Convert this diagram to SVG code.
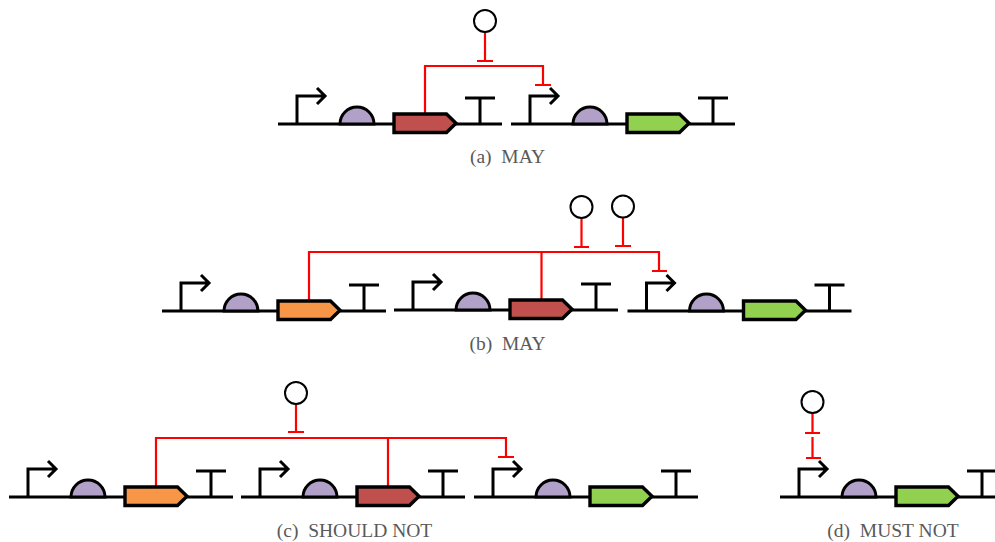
<svg xmlns="http://www.w3.org/2000/svg" width="995" height="542" viewBox="0 0 995 542">
<style>
.bb{fill:none;stroke:#000;stroke-width:3}
.rbs{fill:#b1a0c7;stroke:#000;stroke-width:3}
.cds{stroke:#000;stroke-width:3.400;stroke-linejoin:miter}
.red{fill:#c0504d}.org{fill:#f79646}.grn{fill:#92d050}
.reg{fill:#fff;stroke:#000;stroke-width:2}
.inh{fill:none;stroke:#f00;stroke-width:2.200}
.cap{font-family:"Liberation Serif",serif;font-size:19.500px;fill:#595959;text-anchor:middle;white-space:pre}
</style>
<defs>
<g id="base">
<path class="bb" d="M0 0H224M19 0V-28H47M39 -36L47 -28L39 -20M202 0V-26M187 -26H217"/>
<path class="rbs" d="M62 0A17 17 0 0 1 96 0Z"/>
</g>
<path id="cds" d="M116 -10H168.500L178 -0.750L168.500 8.500H116Z"/>
</defs>
<g id="connectors">
<path class="inh" d="M485 32V61M477 61H493M425 113V66H543V85M535 85H551"/>
<path class="inh" d="M581.500 217V247M574 247H589M623 217V246M615 246H631M309 300V252H659V271M652 271H667M541.500 252V300"/>
<path class="inh" d="M296 404V432M288 432H304M156 486V438H506V457M498 457H514M388 438V486"/>
<path class="inh" d="M812.500 413V433M805 433H820M812.500 437V458M806 458H821"/>
</g>
<g id="a-unit1" transform="translate(278 124)"><use href="#base"/><use href="#cds" class="cds red"/></g>
<g id="a-unit2" transform="translate(511 124)"><use href="#base"/><use href="#cds" class="cds grn"/></g>
<g id="a-reg"><circle class="reg" cx="485" cy="21" r="11"/></g>
<g id="b-unit1" transform="translate(162 311)"><use href="#base"/><use href="#cds" class="cds org"/></g>
<g id="b-unit2" transform="translate(394 310)"><use href="#base"/><use href="#cds" class="cds red"/></g>
<g id="b-unit3" transform="translate(627.500 311)"><use href="#base"/><use href="#cds" class="cds grn"/></g>
<g id="b-reg1"><circle class="reg" cx="581.500" cy="207" r="11"/></g>
<g id="b-reg2"><circle class="reg" cx="623" cy="206.500" r="11"/></g>
<g id="c-unit1" transform="translate(9 497)"><use href="#base"/><use href="#cds" class="cds org"/></g>
<g id="c-unit2" transform="translate(241 497)"><use href="#base"/><use href="#cds" class="cds red"/></g>
<g id="c-unit3" transform="translate(474 497)"><use href="#base"/><use href="#cds" class="cds grn"/></g>
<g id="c-reg"><circle class="reg" cx="296" cy="393" r="11"/></g>
<g id="d-unit" transform="translate(780 497)"><use href="#base"/><use href="#cds" class="cds grn"/></g>
<g id="d-reg"><circle class="reg" cx="812.500" cy="402" r="11"/></g>
<g id="captions">
<text class="cap" x="507.500" y="163">(a)  MAY</text>
<text class="cap" x="507.500" y="350">(b)  MAY</text>
<text class="cap" x="354.500" y="537">(c)  SHOULD NOT</text>
<text class="cap" x="893" y="537">(d)  MUST NOT</text>
</g>
</svg>
